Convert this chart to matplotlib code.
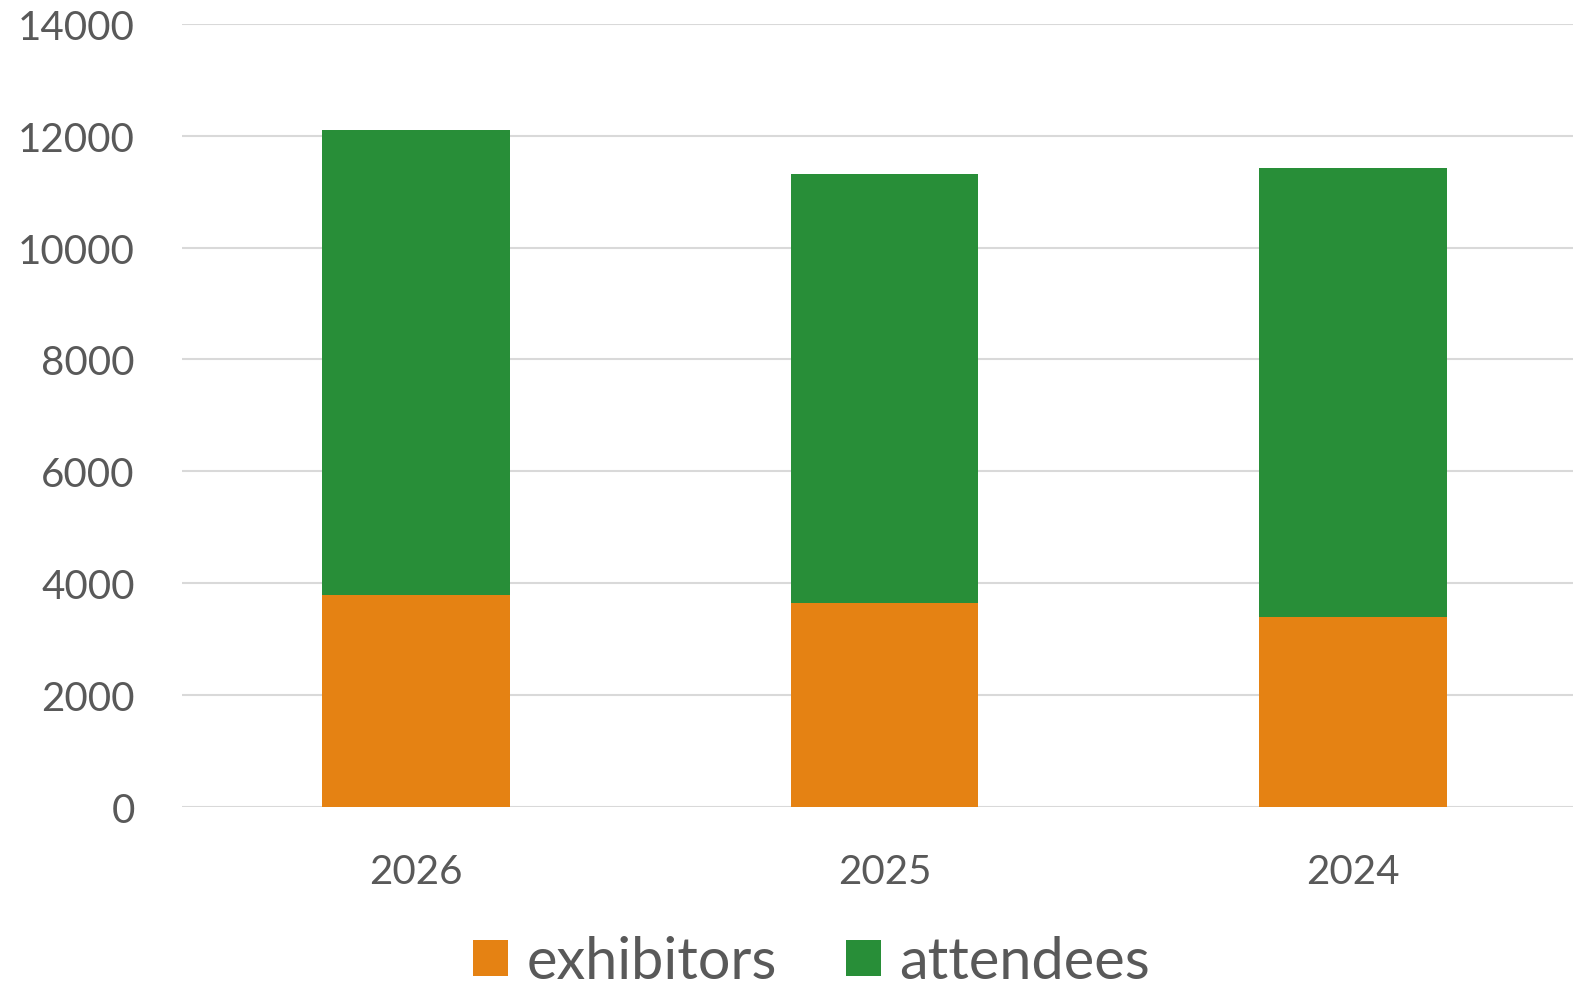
import matplotlib
matplotlib.use("Agg")
import matplotlib.pyplot as plt
import numpy as np

# data
years = ["2026", "2025", "2024"]
exhibitors = [3790, 3640, 3390]
attendees = [8320, 7670, 8030]

ORANGE = "#E58213"
GREEN = "#288E38"
TEXT = "#595959"
GRID = "#D9D9D9"

plt.rcParams['font.family'] = ['Lato', 'DejaVu Sans']

fig = plt.figure(figsize=(15.73, 9.87), dpi=100)
ax = fig.add_axes([182 / 1573, 1 - 807.7 / 987, 1405 / 1573, (807.7 - 25) / 987])

x = np.arange(len(years))
ax.bar(x, exhibitors, width=0.4, color=ORANGE, label="exhibitors", zorder=3)
ax.bar(x, attendees, width=0.4, bottom=exhibitors, color=GREEN, label="attendees", zorder=3)

ax.set_xlim(-0.5, 2.5)
ax.set_ylim(0, 14000)
ax.set_yticks(range(0, 14001, 2000))
ax.set_xticks(x)
ax.set_xticklabels(years)

ax.grid(axis='y', color=GRID, linewidth=1.5, zorder=0)
for s in ax.spines.values():
    s.set_visible(False)
ax.tick_params(axis='both', length=0, labelsize=29, labelcolor=TEXT)
ax.tick_params(axis='y', pad=34)
ax.tick_params(axis='x', pad=33)

fig.legend(loc='center', bbox_to_anchor=(0.516, 1 - 963 / 987), ncol=2, frameon=False,
           fontsize=41.5, labelcolor=TEXT, handlelength=0.6, handleheight=0.6,
           handletextpad=0.32, columnspacing=1.2)

fig.savefig("out.png", dpi=100)
